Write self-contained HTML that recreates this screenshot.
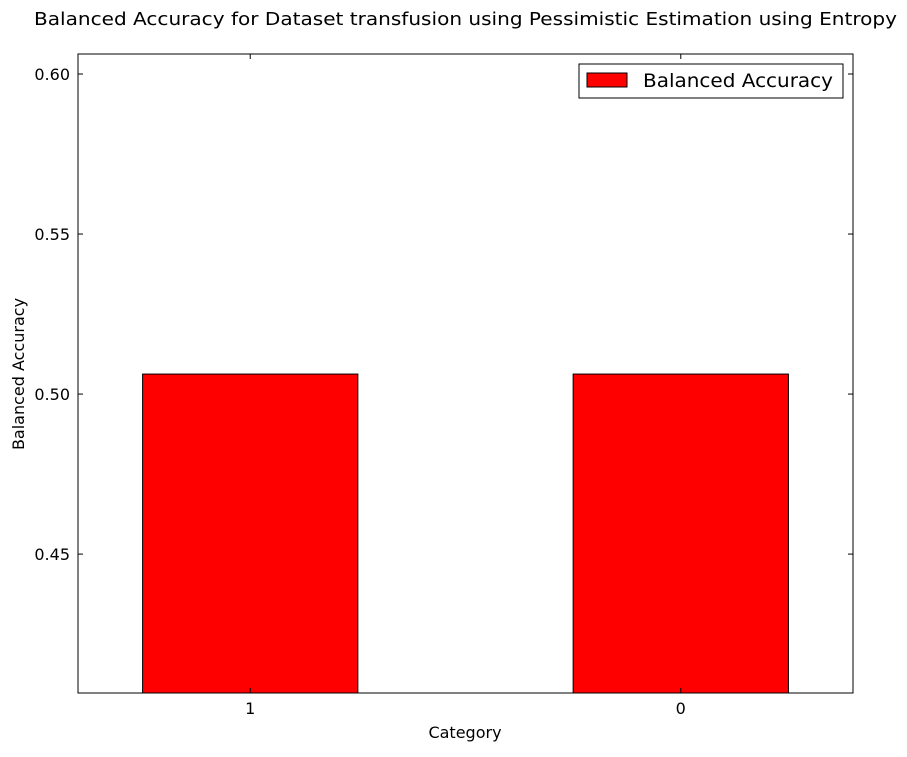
<!DOCTYPE html>
<html><head><meta charset="utf-8"><style>
body{margin:0;background:#fff;}
svg text{font-family:"DejaVu Sans","Liberation Sans",sans-serif;fill:#000;}
</style></head><body>
<svg id="chart" width="907" height="752" xmlns="http://www.w3.org/2000/svg">
<rect width="907" height="752" fill="#fff"/>
<text x="34" y="25" font-size="18" textLength="863" lengthAdjust="spacingAndGlyphs">Balanced Accuracy for Dataset transfusion using Pessimistic Estimation using Entropy</text>
<g id="bars"></g>
<rect x="78" y="54" width="775" height="639" fill="none" stroke="#000" stroke-width="1"/>
<g id="yticks"></g>
<g id="xticks"></g>
<text x="465" y="738" font-size="16" text-anchor="middle">Category</text>
<text transform="translate(24,374) rotate(-90)" font-size="16" text-anchor="middle">Balanced Accuracy</text>
<g>
<rect x="579" y="64" width="264" height="34" fill="#fff" stroke="#000"/>
<rect x="587" y="73" width="40" height="14" fill="#ff0000" stroke="#000"/>
<text x="643" y="87" font-size="19" textLength="190" lengthAdjust="spacingAndGlyphs">Balanced Accuracy</text>
</g>
</svg>
<script>
const categories = ["1", "0"];
const values = [0.50625, 0.50625];
const yTicks = [0.45, 0.50, 0.55, 0.60];
const yTickLabels = ["0.45", "0.50", "0.55", "0.60"];
const NS = "http://www.w3.org/2000/svg";
const L=78,R=853,T=54,B=693, yMin=0.4066, yMax=0.60625, xMin=-0.4, xMax=1.4, bw=0.5;
const sx = v => L + (v - xMin) / (xMax - xMin) * (R - L);
const sy = v => B - (v - yMin) / (yMax - yMin) * (B - T);
function mk(tag, attrs){const e=document.createElementNS(NS,tag);for(const k in attrs)e.setAttribute(k,attrs[k]);return e;}
const bars=document.getElementById('bars');
categories.forEach((c,i)=>{
  const x0=sx(i-bw/2), x1=sx(i+bw/2), y=sy(values[i]);
  const r=mk('rect',{x:x0,y:y,width:x1-x0,height:B-y,fill:'#ff0000',stroke:'#000','stroke-width':1});
  
  
  bars.appendChild(r);
  const xt=document.getElementById('xticks');
  const t1=mk('line',{x1:sx(i),x2:sx(i),y1:B,y2:B-5,stroke:'#000'});
  
  
  xt.appendChild(t1);
  const t2=mk('line',{x1:sx(i),x2:sx(i),y1:T,y2:T+5,stroke:'#000'});
  
  
  xt.appendChild(t2);
  const lb=mk('text',{x:sx(i),y:B+21,'font-size':16,'text-anchor':'middle'});
  lb.textContent=c;
  
  
  xt.appendChild(lb);
});
const yt=document.getElementById('yticks');
yTicks.forEach((v,i)=>{
  const y=sy(v);
  const a=mk('line',{x1:L,x2:L+5,y1:y,y2:y,stroke:'#000'});
  
  
  yt.appendChild(a);
  const b=mk('line',{x1:R-5,x2:R,y1:y,y2:y,stroke:'#000'});
  
  
  yt.appendChild(b);
  const t=mk('text',{x:L-8,y:y+6,'font-size':16,'text-anchor':'end'});
  t.textContent=yTickLabels[i];
  
  
  yt.appendChild(t);
});
</script>
</body></html>
